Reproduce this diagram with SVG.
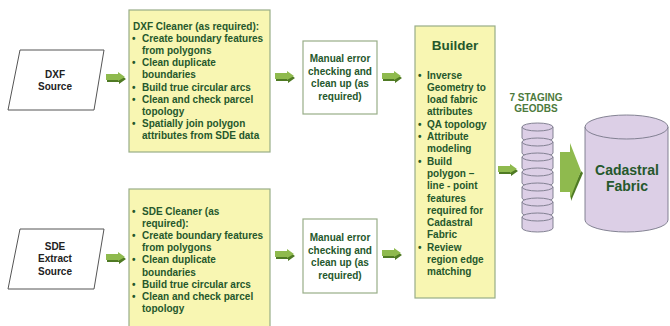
<svg xmlns="http://www.w3.org/2000/svg" width="670" height="326" viewBox="0 0 670 326">
<defs>
<style>
text{font-family:"Liberation Sans",Arial,sans-serif;font-weight:bold;fill:#25582c;font-size:10px}
.c{text-anchor:middle}
.src{fill:#fff;stroke:#555;stroke-width:1}
.src-t{fill:#222;text-anchor:middle}
.ybox{fill:#f8f6b2;stroke:#98ad88;stroke-width:1.2}
.wbox{fill:#fff;stroke:#98ad88;stroke-width:1.2}
.light{fill:#8fba4e}
.dark{fill:#4f7a24}
.disk{fill:#dccfe6;stroke:#777788;stroke-width:0.9}
.stg{fill:#4d7a3c;text-anchor:middle}
</style>
<g id="arrow">
<polygon class="dark" points="1,4 13,4 13,2 20,7 13,12 13,10 1,10"/>
<polygon class="light" points="0,2 12,2 12,0 19,5 12,9 12,8 0,8"/>
</g>
</defs>
<rect width="670" height="326" fill="#fff"/>

<g id="dxf-source">
<polygon class="src" points="20,50 104,50 94,110 8,110"/>
<text class="src-t" x="55" y="77.5">DXF</text>
<text class="src-t" x="55" y="89.5">Source</text>
</g>

<g id="sde-source">
<polygon class="src" points="20,229 104,229 94,289 8,289"/>
<text class="src-t" x="55" y="250.2">SDE</text>
<text class="src-t" x="55" y="262.4">Extract</text>
<text class="src-t" x="55" y="274.6">Source</text>
</g>

<g id="dxf-cleaner">
<rect class="ybox" x="129" y="10" width="141" height="142"/>
<text x="133" y="29.5">DXF Cleaner (as required):</text>
<text x="132" y="41.7">•</text><text x="142" y="41.7">Create boundary features</text>
<text x="142" y="53.9">from polygons</text>
<text x="132" y="66.1">•</text><text x="142" y="66.1">Clean duplicate</text>
<text x="142" y="78.3">boundaries</text>
<text x="132" y="90.5">•</text><text x="142" y="90.5">Build true circular arcs</text>
<text x="132" y="102.7">•</text><text x="142" y="102.7">Clean and check parcel</text>
<text x="142" y="114.9">topology</text>
<text x="132" y="127.1">•</text><text x="142" y="127.1">Spatially join polygon</text>
<text x="142" y="139.3">attributes from SDE data</text>
</g>

<g id="sde-cleaner">
<rect class="ybox" x="129" y="189" width="141" height="145"/>
<text x="132" y="214.5">•</text><text x="142" y="214.5">SDE Cleaner (as</text>
<text x="142" y="226.7">required):</text>
<text x="132" y="238.9">•</text><text x="142" y="238.9">Create boundary features</text>
<text x="142" y="251.1">from polygons</text>
<text x="132" y="263.3">•</text><text x="142" y="263.3">Clean duplicate</text>
<text x="142" y="275.5">boundaries</text>
<text x="132" y="287.7">•</text><text x="142" y="287.7">Build true circular arcs</text>
<text x="132" y="299.9">•</text><text x="142" y="299.9">Clean and check parcel</text>
<text x="142" y="312.1">topology</text>
</g>

<g id="manual-1">
<rect class="wbox" x="303" y="41" width="74" height="73"/>
<text class="c" x="340" y="62">Manual error</text>
<text class="c" x="340" y="74.5">checking and</text>
<text class="c" x="340" y="87">clean up (as</text>
<text class="c" x="340" y="99.5">required)</text>
</g>

<g id="manual-2">
<rect class="wbox" x="303" y="219" width="74" height="74"/>
<text class="c" x="340" y="241">Manual error</text>
<text class="c" x="340" y="253.5">checking and</text>
<text class="c" x="340" y="266">clean up (as</text>
<text class="c" x="340" y="278.5">required)</text>
</g>

<g id="builder">
<rect class="ybox" x="415" y="26" width="80" height="272"/>
<text class="c" x="455" y="49.5" style="font-size:13.5px">Builder</text>
<text x="418" y="78.5">•</text><text x="427" y="78.5">Inverse</text>
<text x="427" y="90.8">Geometry to</text>
<text x="427" y="103.1">load fabric</text>
<text x="427" y="115.4">attributes</text>
<text x="418" y="127.7">•</text><text x="427" y="127.7">QA topology</text>
<text x="418" y="140">•</text><text x="427" y="140">Attribute</text>
<text x="427" y="152.3">modeling</text>
<text x="418" y="164.6">•</text><text x="427" y="164.6">Build</text>
<text x="427" y="176.9">polygon –</text>
<text x="427" y="189.2">line - point</text>
<text x="427" y="201.5">features</text>
<text x="427" y="213.8">required for</text>
<text x="427" y="226.1">Cadastral</text>
<text x="427" y="238.4">Fabric</text>
<text x="418" y="250.7">•</text><text x="427" y="250.7">Review</text>
<text x="427" y="263">region edge</text>
<text x="427" y="275.3">matching</text>
</g>

<g id="staging-geodbs">
<text class="stg" x="536" y="100.5">7 STAGING</text>
<text class="stg" x="536" y="112">GEODBS</text>
<g id="disk1"><path class="disk" d="M522,127 V138 A15.5,4 0 0 0 553,138 V127 Z"/><ellipse class="disk" cx="537.5" cy="127" rx="15.5" ry="4"/></g>
<g id="disk2"><path class="disk" d="M522,142 V153 A15.5,4 0 0 0 553,153 V142 Z"/><ellipse class="disk" cx="537.5" cy="142" rx="15.5" ry="4"/></g>
<g id="disk3"><path class="disk" d="M522,157 V168 A15.5,4 0 0 0 553,168 V157 Z"/><ellipse class="disk" cx="537.5" cy="157" rx="15.5" ry="4"/></g>
<g id="disk4"><path class="disk" d="M522,172 V183 A15.5,4 0 0 0 553,183 V172 Z"/><ellipse class="disk" cx="537.5" cy="172" rx="15.5" ry="4"/></g>
<g id="disk5"><path class="disk" d="M522,187 V198 A15.5,4 0 0 0 553,198 V187 Z"/><ellipse class="disk" cx="537.5" cy="187" rx="15.5" ry="4"/></g>
<g id="disk6"><path class="disk" d="M522,202 V213 A15.5,4 0 0 0 553,213 V202 Z"/><ellipse class="disk" cx="537.5" cy="202" rx="15.5" ry="4"/></g>
<g id="disk7"><path class="disk" d="M522,217 V228 A15.5,4 0 0 0 553,228 V217 Z"/><ellipse class="disk" cx="537.5" cy="217" rx="15.5" ry="4"/></g>
</g>

<g id="cadastral-fabric">
<path class="disk" d="M585,127 V220 A41.5,12 0 0 0 668,220 V127 Z"/>
<ellipse class="disk" cx="626.5" cy="127" rx="41.5" ry="12"/>
<text class="c" x="627" y="175" style="font-size:14px">Cadastral</text>
<text class="c" x="627" y="190.5" style="font-size:14px">Fabric</text>
</g>

<g id="connectors">
<use href="#arrow" x="106" y="72"/>
<use href="#arrow" x="275" y="71"/>
<use href="#arrow" x="382" y="71"/>
<use href="#arrow" x="106" y="252"/>
<use href="#arrow" x="275" y="249"/>
<use href="#arrow" x="382" y="248"/>
<use href="#arrow" x="498" y="164"/>
<polygon class="dark" points="571,193 571,201 583,173 581,171"/>
<polygon class="light" points="560,152 570,152 570,143 581,171 570,199 570,192 560,192"/>
</g>
</svg>
